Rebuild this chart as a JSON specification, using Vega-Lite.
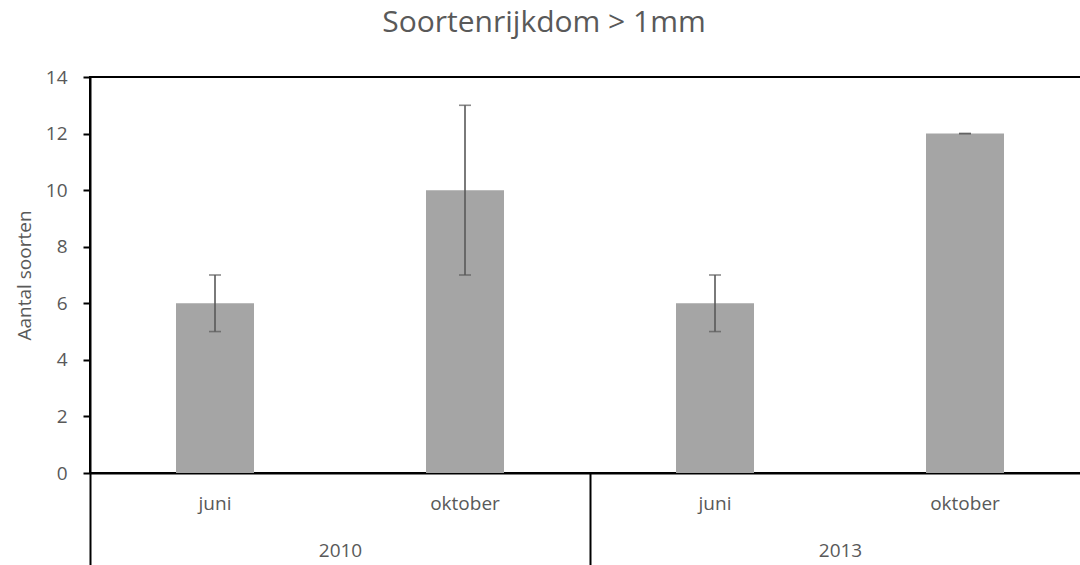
{
  "$schema": "https://vega.github.io/schema/vega-lite/v6.json",
  "width": 1000,
  "height": 396,
  "autosize": {"type": "none"},
  "padding": {"left": 90, "top": 77, "right": 0, "bottom": 92},
  "background": "white",
  "config": {
    "view": {"stroke": "black", "strokeWidth": 2},
    "font": "Open Sans"
  },
  "title": {
    "text": "Soortenrijkdom > 1mm",
    "fontSize": 30,
    "fontWeight": "normal",
    "color": "#595959",
    "font": "Open Sans",
    "anchor": "middle",
    "dx": -46,
    "baseline": "alphabetic",
    "offset": 6
  },
  "data": {
    "values": [
      {"year": "2010", "month": "juni", "key": "2010 juni", "value": 6, "lo": 5, "hi": 7},
      {"year": "2010", "month": "oktober", "key": "2010 oktober", "value": 10, "lo": 7, "hi": 13},
      {"year": "2013", "month": "juni", "key": "2013 juni", "value": 6, "lo": 5, "hi": 7},
      {"year": "2013", "month": "oktober", "key": "2013 oktober", "value": 12, "lo": 12, "hi": 12}
    ]
  },
  "layer": [
    {
      "layer": [
        {
          "mark": {"type": "bar", "color": "#A5A5A5", "width": {"band": 0.312}},
          "encoding": {
            "x": {
              "field": "key", "type": "nominal", "sort": null,
              "scale": {"paddingInner": 0, "paddingOuter": 0},
              "axis": {
                "title": null, "orient": "bottom",
                "labelExpr": "split(datum.value, ' ')[1]",
                "ticks": false, "domainColor": "black", "domainWidth": 2,
                "labelAngle": 0, "labelPadding": 21, "labelFontSize": 19,
                "labelColor": "#595959", "labelFont": "Open Sans"
              }
            },
            "y": {
              "field": "value", "type": "quantitative",
              "scale": {"domain": [0, 14]},
              "axis": {
                "title": "Aantal soorten", "titleColor": "#595959", "titleFontSize": 19,
                "titleFontWeight": "normal", "titleFont": "Open Sans", "titlePadding": 11,
                "values": [0, 2, 4, 6, 8, 10, 12, 14], "grid": false,
                "domainColor": "black", "domainWidth": 2,
                "tickColor": "black", "tickWidth": 2, "tickSize": 7,
                "labelPadding": 16, "labelColor": "#595959", "labelFontSize": 19,
                "labelFont": "Open Sans"
              }
            }
          }
        },
        {
          "mark": {"type": "errorbar", "ticks": true, "color": "#595959", "thickness": 1.6, "size": 12},
          "encoding": {
            "x": {"field": "key", "type": "nominal", "sort": null},
            "y": {"field": "lo", "type": "quantitative", "title": "Aantal soorten"},
            "y2": {"field": "hi"}
          }
        }
      ]
    },
    {
      "mark": {"type": "rule", "opacity": 0},
      "encoding": {
        "x": {
          "field": "year", "type": "nominal",
          "scale": {"paddingInner": 0, "paddingOuter": 0},
          "axis": {
            "title": null, "orient": "bottom", "domain": false,
            "ticks": true, "tickBand": "extent", "tickSize": 95,
            "tickColor": "black", "tickWidth": 2,
            "labelPadding": -27, "labelAngle": 0, "labelFontSize": 19,
            "labelColor": "#595959", "labelFont": "Open Sans"
          }
        }
      }
    }
  ],
  "resolve": {"scale": {"x": "independent"}, "axis": {"x": "independent"}}
}
